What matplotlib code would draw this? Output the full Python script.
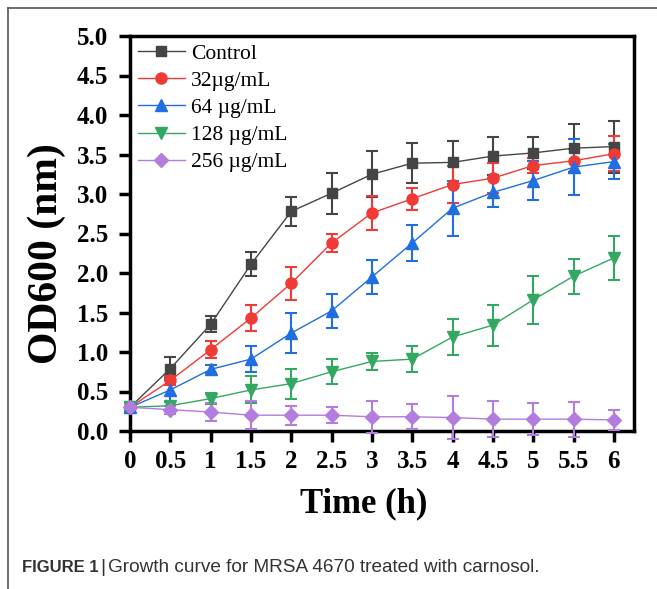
import matplotlib
matplotlib.use("Agg")
import matplotlib.pyplot as plt
from matplotlib.lines import Line2D

time_h = [0, 0.5, 1, 1.5, 2, 2.5, 3, 3.5, 4, 4.5, 5, 5.5, 6]
x_tick_labels = ["0", "0.5", "1", "1.5", "2", "2.5", "3", "3.5", "4", "4.5", "5", "5.5", "6"]
y_ticks = [0.0, 0.5, 1.0, 1.5, 2.0, 2.5, 3.0, 3.5, 4.0, 4.5, 5.0]

control = [0.30, 0.79, 1.35, 2.11, 2.78, 3.01, 3.25, 3.39, 3.40, 3.48, 3.52, 3.58, 3.60]
control_err = [0.05, 0.15, 0.10, 0.15, 0.18, 0.26, 0.29, 0.25, 0.27, 0.24, 0.20, 0.30, 0.33]

c32 = [0.30, 0.64, 1.03, 1.43, 1.87, 2.38, 2.76, 2.94, 3.12, 3.20, 3.36, 3.42, 3.51]
c32_err = [0.05, 0.06, 0.11, 0.17, 0.21, 0.12, 0.21, 0.14, 0.23, 0.19, 0.10, 0.15, 0.22]

c64 = [0.30, 0.52, 0.78, 0.91, 1.24, 1.52, 1.95, 2.38, 2.82, 3.02, 3.17, 3.34, 3.41]
c64_err = [0.05, 0.15, 0.05, 0.16, 0.25, 0.21, 0.21, 0.23, 0.35, 0.18, 0.25, 0.35, 0.22]

c128 = [0.30, 0.32, 0.41, 0.52, 0.60, 0.75, 0.88, 0.91, 1.19, 1.34, 1.66, 1.96, 2.19]
c128_err = [0.05, 0.05, 0.07, 0.17, 0.19, 0.16, 0.11, 0.16, 0.23, 0.26, 0.30, 0.22, 0.28]

c256 = [0.30, 0.27, 0.24, 0.20, 0.20, 0.20, 0.18, 0.18, 0.17, 0.15, 0.15, 0.15, 0.14]
c256_err = [0.07, 0.05, 0.11, 0.18, 0.12, 0.10, 0.20, 0.16, 0.27, 0.23, 0.20, 0.22, 0.13]

labels = ["Control", "32\u00b5g/mL", "64 \u00b5g/mL", "128 \u00b5g/mL", "256 \u00b5g/mL"]
colors = ["#454545", "#f03a35", "#1f6fe0", "#34a862", "#b27ddf"]
markers = ["s", "o", "^", "v", "D"]
msizes = [7.5, 8, 9, 9, 7]

series = [(control, control_err), (c32, c32_err), (c64, c64_err), (c128, c128_err), (c256, c256_err)]

plt.rcParams['font.family'] = ['Liberation Serif', 'DejaVu Serif']

W, H = 657, 589
fig = plt.figure(figsize=(W / 100, H / 100), dpi=100)
ax = fig.add_axes([130 / W, (H - 431) / H, (634 - 130) / W, (431 - 36) / H])

handles = []
for (vals, errs), lab, col, mk, ms in zip(series, labels, colors, markers, msizes):
    ax.errorbar(time_h, vals, yerr=errs, color=col, marker=mk, markersize=ms,
                linewidth=1.0, elinewidth=1.5, capsize=4, capthick=1.5,
                clip_on=False, zorder=3)
    handles.append(Line2D([0], [0], color=col, marker=mk, markersize=ms, linewidth=1.0))

ax.set_xlim(0, 6.25)
ax.set_ylim(0, 5.0)
ax.set_xticks(time_h)
ax.set_xticklabels(x_tick_labels)
ax.set_yticks(y_ticks)
ax.set_yticklabels([f"{v:.1f}" for v in y_ticks])

for sp in ax.spines.values():
    sp.set_linewidth(2.5)
    sp.set_color("black")
ax.tick_params(axis="both", direction="out", length=8, width=2.5, colors="black")
ax.tick_params(axis="y", labelsize=18, pad=8)
ax.tick_params(axis="x", labelsize=18, pad=6)
for lab in ax.get_xticklabels() + ax.get_yticklabels():
    lab.set_fontweight("bold")

ax.set_xlabel("Time (h)", fontsize=25, fontweight="bold")
ax.xaxis.set_label_coords(0.464, -0.143)
ax.set_ylabel("OD600 (nm)", fontsize=30, fontweight="bold")
ax.yaxis.set_label_coords(-0.127, 0.45)

ax.legend(handles, labels, loc="upper left", frameon=False, fontsize=15.5,
          handlelength=2.2, handletextpad=0.3, labelspacing=0.33,
          borderaxespad=0.2, borderpad=0.15)

# page border (left and top)
fig.add_artist(Line2D([8 / W, 8 / W], [0, 1 - 8 / H], transform=fig.transFigure, color="#555555", linewidth=1.2))
fig.add_artist(Line2D([8 / W, 1], [1 - 8 / H, 1 - 8 / H], transform=fig.transFigure, color="#555555", linewidth=1.2))

cap_font = ["Liberation Sans", "DejaVu Sans"]
fig.text(22 / W, 1 - 568 / H, "FIGURE 1", family=cap_font,
         fontsize=12, fontweight="bold", color="#333333", va="center", ha="left")
fig.text(100 / W, 1 - 567 / H, "|", family=cap_font,
         fontsize=14, color="#333333", va="center", ha="left")
fig.text(108 / W, 1 - 568 / H, "Growth curve for MRSA 4670 treated with carnosol.",
         family=cap_font, fontsize=13.7, color="#333333",
         va="center", ha="left")

fig.savefig("out.png", dpi=100)
